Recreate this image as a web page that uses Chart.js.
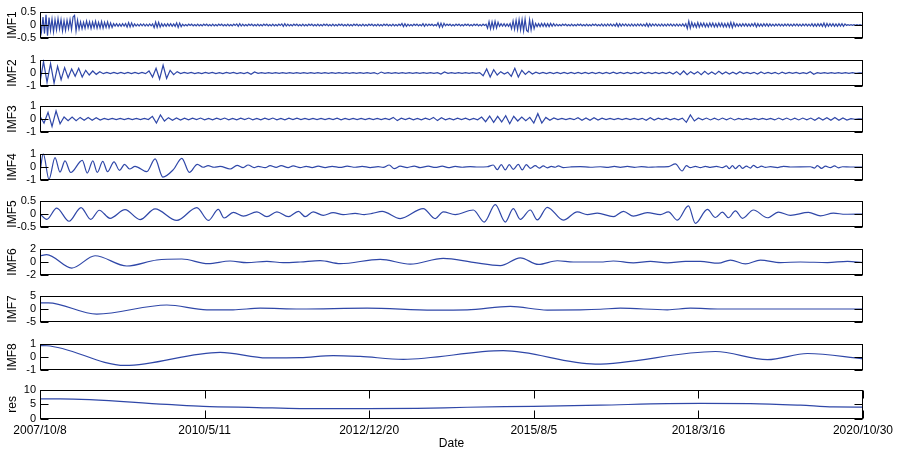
<!DOCTYPE html>
<html>
<head>
<meta charset="utf-8">
<script src="https://cdn.jsdelivr.net/npm/chart.js@4.4.0/dist/chart.umd.min.js"></script>
<style>
  html, body { margin: 0; padding: 0; background: #fff; }
  #wrap { position: relative; width: 897px; height: 454px; overflow: hidden; }
  #wrap canvas { position: absolute; left: 0; }
</style>
</head>
<body>
<div id="wrap"></div>
<script>
// x axis = trading day index from the first date
const xTickDays = [0, 658, 1316, 1974, 2632, 3290];
const xTickLabels = ['2007/10/8', '2010/5/11', '2012/12/20', '2015/8/5', '2018/3/16', '2020/10/30'];

const seriesNames = ['IMF1', 'IMF2', 'IMF3', 'IMF4', 'IMF5', 'IMF6', 'IMF7', 'IMF8', 'res'];
const yTicks = [
  [-0.5, 0, 0.5], [-1, 0, 1], [-1, 0, 1], [-1, 0, 1], [-0.5, 0, 0.5],
  [-2, 0, 2], [-5, 0, 5], [-1, 0, 1], [0, 5, 10]
];

// high frequency modes, evenly sampled over the whole period
const imf1 = [
  0.15, -0.25, 0.3, -0.32, 0.38, -0.4, 0.28, -0.2, 0.22, -0.25, 0.2, -0.18, 0.24, -0.15,
  0.2, -0.22, 0.16, -0.2, 0.18, -0.14, 0.2, -0.17, 0.3, 0.36, -0.22, 0.18, -0.15,
  0.12, -0.14, 0.1, -0.12, 0.15, -0.1, 0.12, -0.13, 0.11, -0.1, 0.14, -0.12, 0.1, -0.11,
  0.13, -0.12, 0.1, -0.09, 0.12, -0.1, 0.08, -0.09,
  0.05, -0.04, 0.05, -0.05, 0.04, -0.05, 0.05, -0.04, 0.05,
  -0.08, 0.09, -0.07, 0.08, -0.06,
  0.04, -0.04, 0.03, -0.04, 0.04, -0.03, 0.04, -0.04, 0.03, -0.04, 0.04, -0.03, 0.04,
  -0.1, 0.11, -0.09, 0.1, -0.08,
  0.05, -0.05, 0.04, -0.05, 0.05, -0.04, 0.05, -0.05, 0.04, -0.05,
  0.08, -0.09, 0.07, -0.06,
  0.03, -0.03, 0.02, -0.03, 0.03, -0.02, 0.03, -0.03, 0.02, -0.03,
  0.03, -0.03, 0.02, -0.03, 0.03, -0.02, 0.03, -0.03, 0.02, -0.03,
  0.03, -0.03, 0.02, -0.03, 0.03, -0.02, 0.03, -0.03, 0.02, -0.03,
  0.03, -0.03, 0.02, -0.03, 0.03, -0.02, 0.04, -0.05, 0.05, -0.04,
  0.03, -0.03, 0.02, -0.03, 0.03, -0.02, 0.03, -0.03, 0.02, -0.03,
  0.03, -0.03, 0.02, -0.03, 0.03, -0.02, 0.03, -0.03, 0.02, -0.03,
  0.03, -0.03, 0.02, -0.03, 0.03, -0.02, 0.04, -0.05, 0.05, -0.04,
  0.03, -0.03, 0.02, -0.03, 0.03, -0.02, 0.03, -0.03, 0.02, -0.03,
  0.03, -0.03, 0.02, -0.03, 0.03, -0.02, 0.03, -0.03, 0.02, -0.03,
  0.03, -0.03, 0.02, -0.03, 0.03, -0.02, 0.03, -0.03, 0.02, -0.03,
  0.03, -0.03, 0.02, -0.03, 0.03, -0.02, 0.03, -0.03, 0.02, -0.03,
  0.03, -0.03, 0.02, -0.03, 0.03, -0.02, 0.03, -0.03, 0.02, -0.03,
  0.03, -0.03, 0.02, -0.03, 0.03, -0.02, 0.03, -0.03, 0.02, -0.03,
  0.03, -0.03, 0.02, -0.03, 0.03, -0.02, 0.03, -0.03, 0.02, -0.03,
  0.03, -0.03, 0.02, -0.03, 0.03, -0.02,
  0.06, -0.06, 0.05, -0.05,
  0.03, -0.03, 0.02, -0.03, 0.03, -0.02, 0.03, -0.03, 0.02, -0.03,
  0.05, -0.05, 0.04,
  -0.03, 0.03, -0.02, 0.03, -0.03, 0.02, -0.03,
  0.08, -0.08, 0.07, -0.08, 0.06,
  -0.03, 0.03, -0.02, 0.03, -0.03, 0.02, -0.03, 0.03, -0.02, 0.03, -0.03, 0.02, -0.03, 0.03,
  -0.02, 0.03, -0.03, 0.02, -0.03, 0.03, -0.02, 0.03, -0.03, 0.02, -0.03, 0.03, -0.02, 0.03,
  -0.12, 0.13, -0.14, 0.12, -0.13, 0.14, -0.11, 0.1,
  -0.05, 0.05, -0.04, 0.05, -0.05, 0.04, -0.05, 0.05,
  -0.14, 0.15, -0.16, 0.18, -0.17, 0.2, -0.18, 0.2, -0.22, 0.22, -0.2, -0.25, 0.2, -0.18, 0.15, -0.14,
  0.06, -0.06, 0.05, -0.06, 0.06, -0.05, 0.06, -0.06, 0.05, -0.06, 0.06, -0.05, 0.05, -0.04,
  0.03, -0.03, 0.02, -0.03, 0.03, -0.02, 0.03, -0.03, 0.02, -0.03,
  0.03, -0.03, 0.02, -0.03, 0.03, -0.02, 0.03, -0.03, 0.02, -0.03,
  0.03, -0.03, 0.02, -0.03, 0.03, -0.02, 0.03, -0.03, 0.02, -0.03,
  0.04, -0.04, 0.03, -0.04, 0.04, -0.03, 0.04, -0.04, 0.03, -0.04,
  0.06, -0.06, 0.05, -0.04, 0.04, -0.03, 0.04, -0.04, 0.03, -0.04,
  0.04, -0.04, 0.03, -0.04, 0.04, -0.03, 0.04, -0.04, 0.03, -0.04,
  0.06, -0.06, 0.05, -0.04, 0.04, -0.03, 0.04, -0.04, 0.03, -0.04,
  0.04, -0.04, 0.03, -0.04, 0.04, -0.03, 0.04, -0.04, 0.03, -0.04,
  0.04, -0.04, 0.03, -0.04, 0.04, -0.05, 0.05,
  -0.13, 0.14, -0.12, 0.1,
  -0.07, 0.06, -0.09, 0.09, -0.08, 0.07, -0.06, 0.07, -0.07, 0.06, -0.07, 0.07, -0.06, 0.07,
  -0.07, 0.06, -0.07, 0.07, -0.06, 0.07, -0.07, 0.06, -0.07, 0.07, -0.08, 0.1, -0.1, 0.08, -0.06,
  0.05, -0.05, 0.04, -0.05, 0.05, -0.04, 0.05, -0.05, 0.04, -0.05, 0.05, -0.04,
  0.07, -0.07, 0.05, -0.05, 0.04, -0.05, 0.05, -0.04, 0.05, -0.05, 0.04,
  -0.035, 0.03, -0.04, 0.035, -0.03, 0.04, -0.035, 0.03, -0.04, 0.035, -0.03, 0.04, -0.035, 0.03,
  -0.04, 0.035, -0.03, 0.04, -0.035, 0.03, -0.04, 0.035, -0.03, 0.04, -0.035, 0.03, -0.04,
  0.05, -0.05, 0.04, -0.05, 0.05, -0.04, 0.05, -0.05, 0.07, -0.07, 0.06, -0.05,
  0.05, -0.04, 0.05, -0.05, 0.04, -0.05, 0.05, -0.04, 0.05, -0.05, 0.04,
  -0.015, 0.015, -0.01, 0.015, -0.015, 0.01, -0.015, 0.015, -0.01, 0.015, -0.01, 0.01
];

const imf2 = [
  -0.7, 0.85, -0.7, 0.7, -0.75, 0.5, -0.5, 0.4, -0.35, 0.3, -0.25, 0.35, -0.3, 0.2, -0.15, 0.15, -0.1, 0.1,
  -0.05, 0.05, -0.04, 0.05, -0.05, 0.04, -0.05, 0.05, -0.04, 0.05, -0.05, 0.04, -0.05,
  0.15, -0.3, 0.35, -0.45, 0.58, -0.4, 0.2, -0.12, 0.1,
  -0.04, 0.04, -0.03, 0.04, -0.04, 0.03, -0.04, 0.04, -0.03, 0.04,
  -0.04, 0.03, -0.04, 0.04, -0.03, 0.04, -0.04, 0.03, -0.04, 0.04,
  -0.1, 0.08,
  -0.03, 0.03, -0.02, 0.03, -0.03, 0.02, -0.03, 0.03, -0.02, 0.03, -0.03, 0.02,
  -0.03, 0.03, -0.02, 0.03, -0.03, 0.02, -0.03, 0.03, -0.02, 0.03, -0.03, 0.02,
  -0.03, 0.03, -0.02, 0.03, -0.03, 0.02, -0.03, 0.03, -0.02, 0.03,
  -0.07, 0.07,
  -0.03, 0.03, -0.02, 0.03, -0.03, 0.02, -0.03, 0.03, -0.02, 0.03, -0.03, 0.02, -0.03, 0.03, -0.02, 0.03,
  -0.08, 0.08,
  -0.03, 0.03, -0.02, 0.03, -0.03, 0.02, -0.03, 0.03, -0.02, 0.03,
  -0.2, 0.3, -0.3, 0.25, -0.15, 0.1, -0.08, 0.06,
  -0.25, 0.35, -0.3, 0.2, -0.1, 0.12, -0.08, 0.06,
  -0.04, 0.05, -0.04, 0.05, -0.04, 0.04, -0.05, 0.04, -0.04, 0.05, -0.04, 0.04, -0.04, 0.05, -0.04, 0.04, -0.04,
  0.04, -0.05, 0.04, -0.05, 0.06, -0.05, 0.04, -0.04, 0.05, -0.04, 0.04, -0.05, 0.06, -0.05, 0.04, -0.04,
  0.05, -0.04, 0.04, -0.05, 0.06,
  -0.08, 0.1, -0.12, 0.15, -0.13, 0.1, -0.08, 0.1, -0.12, 0.12, -0.1, 0.08, -0.1, 0.12, -0.08, 0.07,
  -0.08, 0.06, -0.08, 0.1,
  -0.04, 0.04, -0.04, 0.05, -0.08, 0.08, -0.05, 0.04, -0.04, 0.05, -0.07, 0.06, -0.04, 0.04, -0.03,
  0.04, -0.04, 0.03, -0.04, 0.1, -0.09,
  0.03, -0.03, 0.02, -0.03, 0.03, -0.02, 0.03, -0.03, 0.02, -0.03, 0.03, -0.02, 0.02, -0.01
];

const imf3 = [
  0.2, -0.3, 0.5, -0.55, 0.6, -0.35, 0.15, -0.12, 0.15, -0.12, 0.12, -0.1, 0.12, -0.1, 0.1, -0.08,
  0.05, -0.05, 0.04, -0.05, 0.05, -0.04, 0.05, -0.05, 0.04, -0.05, 0.05, -0.04,
  0.2, -0.3, 0.3, -0.15, 0.1, -0.1, 0.08, -0.08, 0.06,
  -0.06, 0.06, -0.05, 0.07, -0.06, 0.05, -0.06, 0.06, -0.05, 0.07, -0.06, 0.05, -0.06, 0.06,
  -0.05, 0.07, -0.06, 0.05, -0.06, 0.06, -0.05, 0.07, -0.06, 0.05, -0.06, 0.06, -0.05, 0.06,
  -0.05, 0.04, -0.05, 0.05, -0.04, 0.05, -0.05, 0.04, -0.05, 0.06, -0.06, 0.05,
  -0.05, 0.04, -0.05, 0.05, -0.04, 0.05, -0.05, 0.04, -0.05, 0.05, -0.04,
  0.12, -0.12,
  0.06, -0.05, 0.06, -0.06, 0.05, -0.06, 0.06, -0.05,
  0.12, -0.12, 0.1,
  -0.06, 0.05, -0.06, 0.06, -0.05, 0.06, -0.06, 0.05, -0.06,
  0.15, -0.2, 0.22, -0.25, 0.2, -0.22, 0.25, -0.35, 0.2, -0.15, 0.15,
  -0.12, 0.12, -0.3, 0.4, -0.3, 0.12, -0.1, 0.08,
  -0.05, 0.05, -0.04, 0.05, -0.05,
  0.1, -0.1, 0.08, -0.1, 0.1, -0.08, 0.06,
  -0.05, 0.04, -0.05, 0.05, -0.04, 0.05, -0.05, 0.04, -0.05, 0.05,
  -0.1, 0.1, -0.08,
  0.06, -0.05, 0.06, -0.06, 0.05, -0.06, 0.06,
  -0.25, 0.3,
  -0.15, 0.07, -0.06, 0.07, -0.07, 0.06, -0.07, 0.07, -0.06, 0.07, -0.07,
  0.05, -0.05, 0.04, -0.05, 0.05, -0.04, 0.05, -0.05, 0.04,
  -0.07, 0.07, -0.06, 0.07, -0.07, 0.06, -0.07, 0.07, -0.06, 0.07,
  -0.1, 0.1, -0.08, 0.1, -0.1, 0.12, -0.1, 0.08, -0.08,
  0.02, -0.02, 0.02, -0.01
];

// slower modes as [day, value] turning points
const imf4 = [
  [0, -0.4], [13, 1.0], [36, -0.92], [60, 0.7], [80, -0.38], [100, 0.45], [123, -0.41],
  [169, 0.5], [189, -0.45], [211, 0.46], [229, -0.4], [251, 0.42], [270, -0.35], [296, 0.38],
  [318, -0.25], [338, 0.2], [358, -0.15], [380, 0.05], [427, -0.35], [460, 0.6], [491, -0.75],
  [533, -0.2], [567, 0.65], [597, -0.4], [629, 0.2], [652, -0.02], [672, 0.1], [696, -0.02],
  [720, 0.05], [760, -0.15], [788, 0.12], [812, -0.05], [832, 0.15], [856, -0.05], [872, 0.05],
  [900, -0.05], [920, 0.1], [944, -0.03], [964, 0.1], [992, -0.05], [1012, 0.08], [1040, -0.05],
  [1064, 0.05], [1088, -0.04], [1112, 0.06], [1140, -0.04], [1168, 0.05], [1200, -0.03],
  [1228, 0.06], [1260, -0.02], [1288, 0.05], [1320, -0.04], [1352, 0.03], [1372, -0.03],
  [1396, 0.15], [1416, -0.12], [1440, 0.06], [1468, -0.04], [1496, 0.07], [1520, -0.05],
  [1552, 0.06], [1580, -0.03], [1608, 0.06], [1632, -0.05], [1660, 0.04], [1688, -0.02],
  [1720, 0.03], [1752, 0.0], [1788, 0.02], [1812, 0.15], [1828, -0.2], [1844, 0.18],
  [1860, -0.22], [1876, 0.18], [1892, -0.18], [1912, 0.2], [1928, -0.22], [1944, 0.18],
  [1960, -0.1], [1980, 0.1], [1996, -0.08], [2012, 0.08], [2028, -0.06], [2044, 0.04],
  [2060, -0.02], [2072, 0.08], [2092, -0.04], [2120, 0.0], [2160, 0.03], [2200, -0.02],
  [2240, 0.02], [2272, -0.03], [2296, 0.04], [2320, -0.03], [2348, 0.04], [2376, -0.03],
  [2404, 0.03], [2432, -0.02], [2460, 0.0], [2512, 0.03], [2540, 0.23], [2567, -0.3],
  [2584, 0.1], [2600, -0.05], [2620, 0.05], [2640, -0.05], [2660, 0.05], [2680, -0.03],
  [2704, 0.04], [2728, -0.04], [2744, 0.08], [2756, -0.12], [2768, 0.1], [2780, -0.12],
  [2796, 0.12], [2808, -0.1], [2824, 0.06], [2840, -0.08], [2852, 0.12], [2868, -0.05],
  [2884, 0.06], [2900, -0.03], [2920, 0.03], [2948, -0.04], [2972, 0.05], [3000, 0.0],
  [3080, 0.02], [3096, -0.08], [3108, 0.1], [3124, -0.1], [3140, 0.06], [3160, -0.05],
  [3176, 0.08], [3192, -0.06], [3208, 0.02], [3240, 0.0], [3290, 0.0]
];

const imf5 = [
  [0, 0], [27, -0.2], [67, 0.22], [116, -0.27], [164, 0.24], [203, -0.2], [237, 0.14],
  [280, -0.16], [340, 0.16], [400, -0.21], [460, 0.19], [547, -0.24], [627, 0.24], [673, -0.24],
  [713, 0.17], [736, -0.15], [773, 0.06], [813, -0.08], [867, 0.08], [907, -0.1], [947, 0.08],
  [993, -0.1], [1033, 0.1], [1060, -0.1], [1092, 0.08], [1132, -0.05], [1172, 0.05],
  [1212, -0.02], [1260, 0.02], [1296, -0.02], [1328, 0.02], [1368, 0.1], [1440, -0.17],
  [1532, 0.2], [1580, -0.17], [1612, 0.08], [1660, -0.02], [1732, 0.15], [1776, -0.3],
  [1820, 0.35], [1860, -0.3], [1892, 0.2], [1920, -0.2], [1960, 0.15], [1988, -0.22],
  [2028, 0.25], [2092, -0.23], [2148, 0.08], [2188, -0.02], [2228, 0.03], [2292, -0.1],
  [2332, 0.1], [2372, -0.08], [2428, 0.05], [2480, -0.02], [2512, 0.08], [2548, -0.23],
  [2592, 0.3], [2620, -0.35], [2668, 0.17], [2700, -0.13], [2728, 0.07], [2752, -0.14],
  [2780, 0.12], [2808, -0.16], [2852, 0.15], [2908, -0.14], [2952, 0.07], [3000, -0.05],
  [3072, 0.06], [3120, -0.07], [3172, 0.03], [3220, -0.01], [3290, 0]
];

const imf6 = [
  [0, 0.93], [27, 1.1], [127, -0.9], [220, 0.93], [347, -0.6], [467, 0.3], [567, 0.45],
  [672, -0.25], [760, 0.15], [827, -0.1], [907, 0.1], [972, -0.1], [1040, 0], [1120, 0.2],
  [1200, -0.25], [1360, 0.4], [1480, -0.32], [1612, 0.54], [1732, -0.06], [1840, -0.54],
  [1920, 0.62], [1992, -0.36], [2068, 0.19], [2132, 0], [2240, 0], [2292, 0.15], [2372, -0.12],
  [2440, 0.1], [2508, -0.12], [2580, 0.08], [2640, 0.08], [2712, -0.18], [2760, 0.28],
  [2820, -0.28], [2880, 0.28], [2960, -0.08], [3040, 0], [3148, -0.08], [3228, 0.1], [3290, -0.08]
];

const imf7 = [
  [0, 2.3], [33, 2.3], [227, -1.9], [507, 1.5], [667, -0.3], [772, -0.3], [880, 0.3],
  [1040, 0], [1308, 0.3], [1572, -0.4], [1708, -0.3], [1880, 0.95], [2028, -0.4],
  [2160, -0.3], [2240, -0.1], [2320, 0.3], [2508, -0.3], [2600, 0.3], [2720, 0], [3290, 0]
];

const imf8 = [
  [0, 0.85], [27, 0.84], [340, -0.63], [720, 0.35], [907, -0.07], [1040, -0.05], [1172, 0.11],
  [1280, 0.04], [1452, -0.17], [1852, 0.47], [2220, -0.53], [2700, 0.41], [2908, -0.2],
  [3068, 0.26], [3290, -0.14]
];

const res = [
  [0, 6.85], [80, 6.85], [507, 4.95], [653, 4.3], [867, 3.9], [1040, 3.55], [1308, 3.5],
  [1508, 3.6], [1708, 4.0], [1972, 4.3], [2240, 4.7], [2508, 5.25], [2640, 5.3], [2840, 5.25],
  [3040, 4.7], [3172, 4.1], [3290, 4.05]
];

// layout (pixels)
const panelTops = [9, 57, 103, 151, 198, 246, 293, 341, 387];
const panelH = 32;
const padV = 8;
const lineColor = '#2f47a8';

Chart.defaults.font.family = "'Liberation Sans', Arial, sans-serif";
Chart.defaults.color = '#000';

const lastDay = xTickDays[xTickDays.length - 1];
const evenPoints = vals => vals.map((v, i) => ({ x: i * lastDay / (vals.length - 1), y: v }));
const pairPoints = arr => arr.map(([d, v]) => ({ x: d, y: v }));

const allSeries = [
  evenPoints(imf1), evenPoints(imf2), evenPoints(imf3),
  pairPoints(imf4), pairPoints(imf5), pairPoints(imf6),
  pairPoints(imf7), pairPoints(imf8), pairPoints(res)
];
const smooth = [false, false, false, true, true, true, true, true, true];

// MATLAB style box with inward tick marks
const boxPlugin = {
  id: 'box',
  afterDraw(chart, args, opts) {
    const { ctx, chartArea: a, scales } = chart;
    const l = Math.round(a.left) + 0.5, r = Math.round(a.right) - 0.5;
    const t = Math.round(a.top) + 0.5, b = Math.round(a.bottom) - 0.5;
    const tl = 8;
    ctx.save();
    ctx.strokeStyle = '#000';
    ctx.lineWidth = 1;
    ctx.strokeRect(l, t, r - l, b - t);
    ctx.beginPath();
    scales.y.ticks.forEach(tk => {
      const y = Math.round(scales.y.getPixelForValue(tk.value)) + 0.5;
      ctx.moveTo(l, y); ctx.lineTo(l + tl, y);
      ctx.moveTo(r, y); ctx.lineTo(r - tl, y);
    });
    if (opts.xTicks) {
      scales.x.ticks.forEach(tk => {
        const x = Math.round(scales.x.getPixelForValue(tk.value)) + 0.5;
        ctx.moveTo(x, t); ctx.lineTo(x, t + tl);
        ctx.moveTo(x, b); ctx.lineTo(x, b - tl);
      });
    }
    ctx.stroke();
    ctx.restore();
  }
};

const wrap = document.getElementById('wrap');

seriesNames.forEach((name, k) => {
  const isLast = k === seriesNames.length - 1;
  const canvas = document.createElement('canvas');
  const top = panelTops[k] - padV;
  const h = isLast ? 454 - top : panelH + 2 * padV;
  canvas.width = 897;
  canvas.height = h;
  canvas.style.top = top + 'px';
  canvas.style.width = '897px';
  canvas.style.height = h + 'px';
  wrap.appendChild(canvas);

  const ticks = yTicks[k];

  new Chart(canvas, {
    type: 'line',
    data: {
      datasets: [{
        data: allSeries[k],
        borderColor: lineColor,
        borderWidth: 1.2,
        pointRadius: 0,
        tension: 0,
        cubicInterpolationMode: smooth[k] ? 'monotone' : 'default'
      }]
    },
    options: {
      responsive: false,
      animation: false,
      devicePixelRatio: 1,
      layout: { padding: { top: padV, bottom: isLast ? 0 : padV, left: 0, right: 34 } },
      plugins: {
        legend: { display: false },
        tooltip: { enabled: false },
        box: { xTicks: isLast }
      },
      scales: {
        x: {
          type: 'linear',
          min: 0,
          max: lastDay,
          display: isLast,
          afterBuildTicks: s => { s.ticks = xTickDays.map(v => ({ value: v })); },
          afterFit: s => { s.height = isLast ? 35 : 0; },
          grid: { display: false, drawTicks: false },
          border: { display: false },
          ticks: {
            autoSkip: false,
            maxRotation: 0,
            padding: 4,
            font: { size: 12 },
            callback: v => xTickLabels[xTickDays.indexOf(v)]
          },
          title: { display: true, text: 'Date', font: { size: 12 }, padding: { top: 0, bottom: 3 } }
        },
        y: {
          min: ticks[0],
          max: ticks[ticks.length - 1],
          afterBuildTicks: s => { s.ticks = ticks.map(v => ({ value: v })); },
          afterFit: s => { s.width = 40; },
          grid: { display: false, drawTicks: false },
          border: { display: false },
          ticks: { autoSkip: false, padding: 4, font: { size: 11 }, callback: v => String(v) },
          title: { display: true, text: name, font: { size: 12 }, padding: { top: 5, bottom: 0 } }
        }
      }
    },
    plugins: [boxPlugin]
  });
});
</script>
</body>
</html>
